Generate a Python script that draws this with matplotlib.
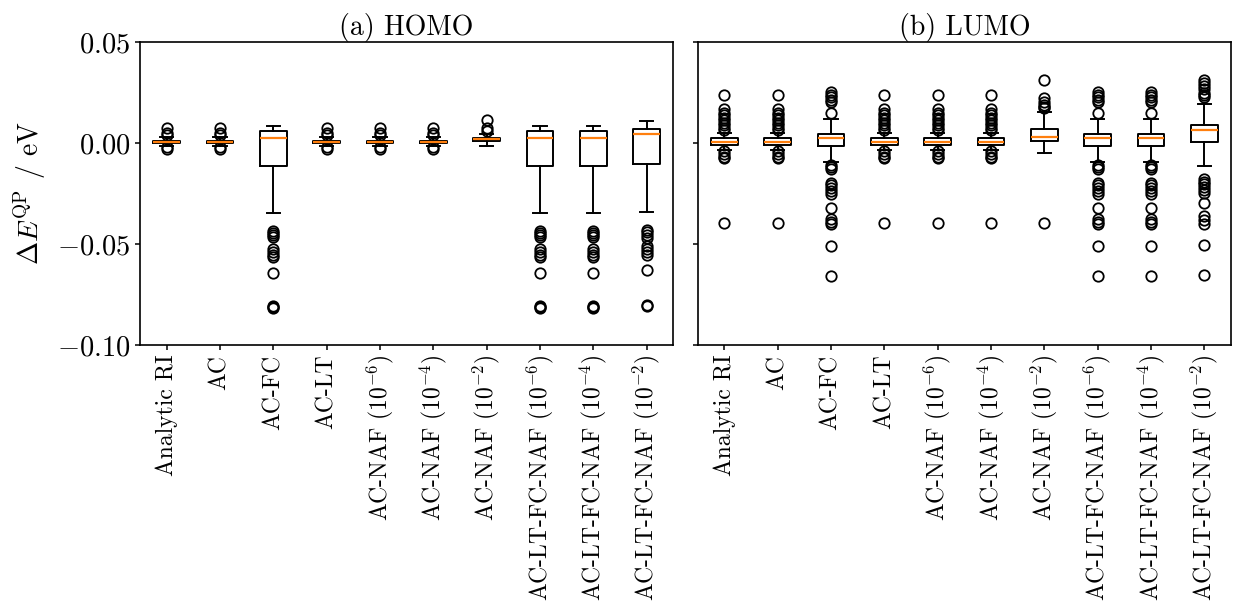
import matplotlib
matplotlib.use("Agg")
import matplotlib.pyplot as plt

plt.rcParams["font.family"] = "cmr10"
plt.rcParams["mathtext.fontset"] = "cm"
plt.rcParams["axes.formatter.use_mathtext"] = True
plt.rcParams["axes.unicode_minus"] = True
plt.rcParams["axes.linewidth"] = 1.2
plt.rcParams["xtick.major.width"] = 1.1
plt.rcParams["ytick.major.width"] = 1.1

labels = [
    "Analytic RI", "AC", "AC-FC", "AC-LT",
    r"AC-NAF ($10^{-6}$)", r"AC-NAF ($10^{-4}$)", r"AC-NAF ($10^{-2}$)",
    r"AC-LT-FC-NAF ($10^{-6}$)", r"AC-LT-FC-NAF ($10^{-4}$)", r"AC-LT-FC-NAF ($10^{-2}$)",
]

# HOMO box statistics (eV)
homo_q1 = [0.0002, 0.0002, -0.0115, 0.0002, 0.0002, 0.0002, 0.0008, -0.0115, -0.0115, -0.0103]
homo_med = [0.0007, 0.0007, 0.0026, 0.0007, 0.0007, 0.0007, 0.0018, 0.0026, 0.0026, 0.0046]
homo_q3 = [0.0012, 0.0012, 0.0060, 0.0012, 0.0012, 0.0012, 0.0026, 0.0060, 0.0060, 0.0070]
homo_lo = [-0.0015, -0.0015, -0.0346, -0.0015, -0.0015, -0.0015, -0.0017, -0.0346, -0.0346, -0.0341]
homo_hi = [0.0030, 0.0030, 0.0085, 0.0030, 0.0030, 0.0030, 0.0045, 0.0085, 0.0085, 0.0111]

homo_small_fl = [0.0073, 0.0052, 0.0040, -0.0022, -0.0030]
homo_fc_fl = [-0.0435, -0.0445, -0.0455, -0.0467, -0.0525, -0.0540, -0.0555, -0.0566,
              -0.0643, -0.0805, -0.0812, -0.0818]
homo_fl = [
    homo_small_fl, homo_small_fl, homo_fc_fl, homo_small_fl, homo_small_fl, homo_small_fl,
    [0.0112, 0.0072, 0.0060],
    homo_fc_fl, homo_fc_fl,
    [-0.0430, -0.0440, -0.0455, -0.0470, -0.0510, -0.0525, -0.0540, -0.0555, -0.0627, -0.0800, -0.0808],
]

# LUMO box statistics (eV)
lumo_q1 = [-0.0008, -0.0008, -0.0013, -0.0008, -0.0008, -0.0008, 0.0008, -0.0013, -0.0013, 0.0006]
lumo_med = [0.0003, 0.0003, 0.0023, 0.0003, 0.0003, 0.0003, 0.0028, 0.0023, 0.0023, 0.0065]
lumo_q3 = [0.0025, 0.0025, 0.0046, 0.0025, 0.0025, 0.0025, 0.0070, 0.0046, 0.0046, 0.0090]
lumo_lo = [-0.0036, -0.0036, -0.0095, -0.0036, -0.0036, -0.0036, -0.0049, -0.0095, -0.0095, -0.0115]
lumo_hi = [0.0052, 0.0052, 0.0118, 0.0052, 0.0052, 0.0052, 0.0155, 0.0118, 0.0118, 0.0193]

lumo_small_fl = [0.0238, 0.0168, 0.0150, 0.0138, 0.0125, 0.0112, 0.0100, 0.0088, 0.0075, 0.0065,
                 -0.0042, -0.0055, -0.0068, -0.0074, -0.0398]
lumo_fc_fl = [0.0254, 0.0240, 0.0228, 0.0215, 0.0205, 0.0148,
              -0.0107, -0.0120, -0.0131, -0.0197, -0.0210, -0.0225, -0.0240, -0.0254,
              -0.0320, -0.0377, -0.0390, -0.0402, -0.0512, -0.0659]
lumo_fl = [
    lumo_small_fl, lumo_small_fl, lumo_fc_fl, lumo_small_fl, lumo_small_fl, lumo_small_fl,
    [0.0311, 0.0221, 0.0205, 0.0190, 0.0178, 0.0172, -0.0398],
    lumo_fc_fl, lumo_fc_fl,
    [0.0311, 0.0295, 0.0280, 0.0265, 0.0250, 0.0238, 0.0229,
     -0.0180, -0.0192, -0.0205, -0.0218, -0.0232, -0.0246, -0.0299, -0.0361, -0.0380, -0.0402,
     -0.0505, -0.0653],
]


def make_stats(q1, med, q3, lo, hi, fl):
    return [
        {"q1": a, "med": m, "q3": b, "whislo": w0, "whishi": w1, "fliers": f, "label": lab}
        for a, m, b, w0, w1, f, lab in zip(q1, med, q3, lo, hi, fl, labels)
    ]


box_style = dict(
    boxprops={"linewidth": 1.4},
    whiskerprops={"linewidth": 1.4},
    capprops={"linewidth": 1.4},
    medianprops={"linewidth": 1.6, "color": "#ff7f0e"},
    flierprops={"marker": "o", "markersize": 7.5, "markeredgewidth": 1.3,
                "markerfacecolor": "none", "markeredgecolor": "black"},
)

fig = plt.figure(figsize=(12.33, 6.07), dpi=100)
ax_h = fig.add_axes([0.1135, 0.4316, 0.4325, 0.4992])
ax_l = fig.add_axes([0.5659, 0.4316, 0.4325, 0.4992], sharey=ax_h)

ax_h.bxp(make_stats(homo_q1, homo_med, homo_q3, homo_lo, homo_hi, homo_fl), **box_style)
ax_l.bxp(make_stats(lumo_q1, lumo_med, lumo_q3, lumo_lo, lumo_hi, lumo_fl), **box_style)

ax_h.set_title("(a) HOMO", fontsize=20, pad=4)
ax_l.set_title("(b) LUMO", fontsize=20, pad=4)
ax_h.set_ylabel(r"$\Delta E^{\mathrm{QP}}$ / eV", fontsize=20, labelpad=6)
ax_h.set_ylim(-0.10, 0.05)
ax_h.set_yticks([-0.10, -0.05, 0.00, 0.05])
ax_h.tick_params(axis="y", labelsize=20.5)
ax_l.tick_params(axis="y", labelleft=False)

for ax in (ax_h, ax_l):
    ax.tick_params(axis="x", labelsize=17, labelrotation=90)

fig.savefig("out.png", dpi=100)
